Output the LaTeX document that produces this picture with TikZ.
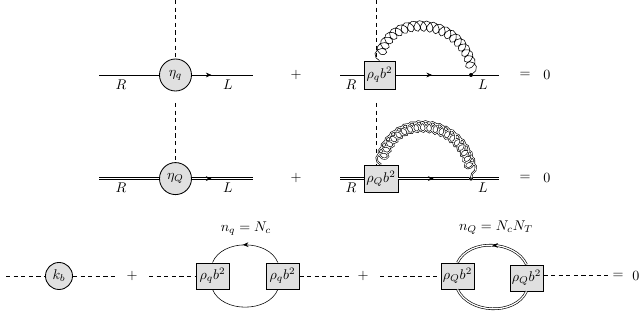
\documentclass[tikz,border=0pt]{standalone}
\usetikzlibrary{arrows.meta,decorations.markings,decorations.pathmorphing}
\tikzset{
    blob/.style={circle, draw, line width=0.6pt, fill=black!12, inner sep=0pt, minimum size=0.8cm},
    vertexbox/.style={rectangle, draw, line width=0.6pt, fill=black!12, inner sep=0pt, minimum width=0.8cm, minimum height=0.68cm},
    scalar/.style={dashed, dash pattern=on 3pt off 2.4pt},
    heavy/.style={double, double distance=0.9pt, line width=0.45pt},
    midarrow/.style={postaction={decorate}, decoration={markings, mark=at position #1 with {\arrow{Stealth[length=4pt,width=3.4pt]}}}},
    gluon/.style={decorate, decoration={coil, aspect=0.8, segment length=4.6pt, amplitude=4pt}},
    tip/.style={circle, fill, inner sep=0pt, minimum size=0.1cm}
}
\begin{document}
\begin{tikzpicture}[x=0.025cm, y=-0.025cm]
        \useasboundingbox (0,0) rectangle (639,320);

        \coordinate (rq) at (99,75);
        \coordinate (lq) at (253,75);
        \coordinate (rQ) at (99,178.6);
        \coordinate (lQ) at (253,178.6);
        \coordinate (topq) at (175.5,0);
        \coordinate (gapq) at (175.5,103);
        \node[blob] (etaq) at (175.5,75) {$\eta_q$};
        \node[blob] (etaQ) at (175.5,178.6) {$\eta_Q$};
        \draw[scalar] (topq) -- (etaq);
        \draw[scalar] (gapq) -- (etaQ);
        \draw (rq) -- (etaq);
        \draw[midarrow=0.32] (etaq) -- (lq);
        \draw[heavy] (rQ) -- (etaQ);
        \draw[heavy, midarrow=0.32] (etaQ) -- (lQ);

        \node at (121,85) {$R$};
        \node at (228,85) {$L$};
        \node at (121,188) {$R$};
        \node at (228,188) {$L$};
        \node at (296,75) {$+$};
        \node at (296,178) {$+$};

        \coordinate (rqb) at (340,75);
        \coordinate (lqb) at (499,75);
        \coordinate (rQb) at (340,178.6);
        \coordinate (lQb) at (499,178.6);
        \coordinate (topb) at (376.4,0);
        \coordinate (gapb) at (376.4,103);
        \node[vertexbox, minimum width=0.775cm, minimum height=0.7cm] (rhoq) at (379.5,75) {$\rho_q b^2$};
        \node[vertexbox, minimum width=0.85cm] (rhoQ) at (381,178.6) {$\rho_Q b^2$};
        \node[tip] (dotq) at (471,75) {};
        \node[tip] (dotQ) at (471,178.6) {};
        \draw[scalar] (topb) -- (rhoq.north -| topb);
        \draw[scalar] (gapb) -- (rhoQ.north -| gapb);
        \draw (rqb) -- (rhoq);
        \draw[midarrow=0.5] (rhoq) -- (dotq);
        \draw (dotq) -- (lqb);
        \draw[heavy] (rQb) -- (rhoQ);
        \draw[heavy, midarrow=0.5] (rhoQ) -- (dotQ);
        \draw[heavy] (dotQ) -- (lQb);
        \draw[gluon] (rhoq.north) to[out=80, in=90, looseness=1.5] (dotq.center);
        \draw[gluon, heavy, double distance=0.5pt, looseness=1.65] (rhoQ.north) to[out=80, in=90] (dotQ.center);

        \node at (351,85) {$R$};
        \node at (483,85) {$L$};
        \node at (351,188) {$R$};
        \node at (483,188) {$L$};
        \node at (525,75) {$=$};
        \node at (547,75) {$0$};
        \node at (525,178) {$=$};
        \node at (547,178) {$0$};

        \coordinate (sa) at (6,276);
        \coordinate (sb) at (116,276);
        \coordinate (sc) at (149,276);
        \coordinate (sd) at (352,276);
        \coordinate (se) at (380,276);
        \coordinate (sf) at (610,275.6);
        \node[blob, minimum size=0.675cm] (kb) at (59,276) {$k_b$};
        \node[vertexbox, minimum width=0.825cm, minimum height=0.65cm] (boxa) at (212.5,276) {$\rho_q b^2$};
        \node[vertexbox, minimum width=0.825cm, minimum height=0.65cm] (boxb) at (282.5,276) {$\rho_q b^2$};
        \node[vertexbox, minimum width=0.825cm, minimum height=0.65cm] (boxc) at (457.5,276) {$\rho_Q b^2$};
        \node[vertexbox, minimum width=0.825cm, minimum height=0.65cm] (boxd) at (526.5,278) {$\rho_Q b^2$};
        \draw[scalar] (sa) -- (kb);
        \draw[scalar] (kb) -- (sb);
        \draw[scalar] (sc) -- (boxa);
        \draw[scalar] (boxb) -- (sd);
        \draw[scalar] (se) -- (boxc);
        \draw[scalar] (boxd.east |- sf) -- (sf);
        \draw[midarrow=0.53] (boxb.109) to[out=112, in=68] (boxa.north);
        \draw (boxa.south) to[out=-68, in=-112] (boxb.251);
        \draw[heavy, midarrow=0.5] (boxd.north) to[out=115, in=65] (boxc.north);
        \draw[heavy] (boxc.south) to[out=-65, in=-115] (boxd.south);

        \node at (132,276) {$+$};
        \node at (363,276) {$+$};
        \node at (618,276) {$=$};
        \node at (636,276) {$0$};
        \node at (246,229) {$n_q = N_c$};
        \node at (496,228) {$n_Q = N_c N_T$};
    \end{tikzpicture}
\end{document}
